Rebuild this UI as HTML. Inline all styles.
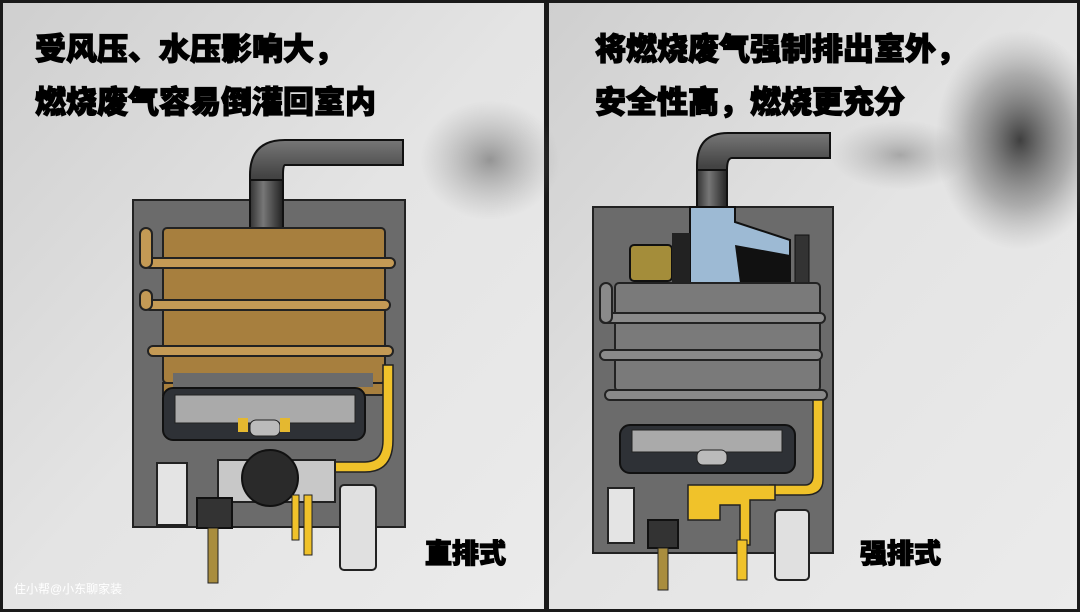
<!DOCTYPE html>
<html><head><meta charset="utf-8"><style>
html,body{margin:0;padding:0;width:1080px;height:612px;overflow:hidden;background:#222}
svg{display:block}
text{font-family:"Liberation Sans","Noto Sans CJK SC",sans-serif;font-weight:900}
.t{stroke:#000;stroke-width:1.2px}
</style></head><body>
<svg width="1080" height="612" viewBox="0 0 1080 612" xmlns="http://www.w3.org/2000/svg">
<defs>
<linearGradient id="bg" x1="0" y1="0" x2="1" y2="1"><stop offset="0" stop-color="#cfcfcf"/><stop offset="0.5" stop-color="#e4e4e4"/><stop offset="1" stop-color="#ebebeb"/></linearGradient>
<radialGradient id="smoke"><stop offset="0" stop-color="#555" stop-opacity="0.7"/><stop offset="1" stop-color="#888" stop-opacity="0"/></radialGradient>
<radialGradient id="smoke2"><stop offset="0" stop-color="#222" stop-opacity="0.85"/><stop offset="0.6" stop-color="#555" stop-opacity="0.4"/><stop offset="1" stop-color="#888" stop-opacity="0"/></radialGradient>
<linearGradient id="pipe" x1="0" y1="0" x2="0" y2="1"><stop offset="0" stop-color="#777"/><stop offset="0.4" stop-color="#444"/><stop offset="1" stop-color="#222"/></linearGradient>
<linearGradient id="pipev" x1="0" y1="0" x2="1" y2="0"><stop offset="0" stop-color="#333"/><stop offset="0.4" stop-color="#777"/><stop offset="1" stop-color="#222"/></linearGradient>
</defs>
<rect x="0" y="0" width="1080" height="612" fill="#1a1a1a"/>
<rect x="3" y="3" width="541" height="606" fill="url(#bg)"/>
<rect x="549" y="3" width="528" height="606" fill="url(#bg)"/>
<ellipse cx="490" cy="160" rx="70" ry="60" fill="url(#smoke)" opacity="0.8"/>
<ellipse cx="1020" cy="140" rx="85" ry="110" fill="url(#smoke2)"/>
<ellipse cx="900" cy="155" rx="70" ry="35" fill="url(#smoke)" opacity="0.6"/>

<text class="t" x="35" y="60" font-size="31" fill="#000">受风压、水压影响大，</text>
<text class="t" x="35" y="113" font-size="31" fill="#000">燃烧废气容易倒灌回室内</text>
<text class="t" x="595" y="60" font-size="31" fill="#000">将燃烧废气强制排出室外，</text>
<text class="t" x="595" y="113" font-size="31" fill="#000">安全性高，燃烧更充分</text>

<!-- LEFT heater -->
<rect x="133" y="200" width="272" height="327" fill="#6b6b6b" stroke="#222" stroke-width="2"/>
<path d="M250 230 V175 Q250 140 285 140 H403 V165 H285 Q283 165 283 175 V230 Z" fill="url(#pipe)" stroke="#111" stroke-width="2"/>
<rect x="250" y="180" width="33" height="50" fill="url(#pipev)" stroke="#111" stroke-width="2"/>
<rect x="163" y="228" width="222" height="155" rx="4" fill="#a77f3e" stroke="#222" stroke-width="2"/>
<path d="M163 383 H385 V395 H163Z" fill="#a77f3e" stroke="#222" stroke-width="2"/>
<rect x="173" y="373" width="200" height="14" fill="#6b6b6b"/>
<g fill="#c49a55" stroke="#222" stroke-width="2">
<rect x="145" y="258" width="250" height="10" rx="5"/>
<rect x="145" y="300" width="245" height="10" rx="5"/>
<rect x="148" y="346" width="245" height="10" rx="5"/>
<rect x="140" y="228" width="12" height="40" rx="6"/>
<rect x="140" y="290" width="12" height="20" rx="6"/>
</g>
<rect x="163" y="388" width="202" height="52" rx="10" fill="#2e3136" stroke="#111" stroke-width="2"/>
<rect x="175" y="395" width="180" height="28" fill="#aaa" stroke="#222"/>
<rect x="250" y="420" width="30" height="16" rx="6" fill="#bbb" stroke="#222"/>
<rect x="238" y="418" width="10" height="14" fill="#e4b830"/><rect x="280" y="418" width="10" height="14" fill="#e4b830"/>
<path d="M383 365 H393 V440 Q393 472 365 472 H330 V462 H365 Q383 462 383 440Z" fill="#f0c22a" stroke="#222" stroke-width="1.5"/>
<rect x="218" y="460" width="117" height="42" fill="#c8c8c8" stroke="#222" stroke-width="2"/>
<circle cx="270" cy="478" r="28" fill="#2a2a2a" stroke="#111" stroke-width="2"/>
<rect x="292" y="495" width="7" height="45" fill="#f0c22a" stroke="#222"/>
<rect x="304" y="495" width="8" height="60" fill="#f0c22a" stroke="#222"/>
<rect x="157" y="463" width="30" height="62" fill="#e4e4e4" stroke="#222" stroke-width="2"/>
<rect x="197" y="498" width="35" height="30" fill="#333" stroke="#111" stroke-width="2"/>
<rect x="208" y="528" width="10" height="55" fill="#a98d3e" stroke="#222"/>
<rect x="340" y="485" width="36" height="85" rx="4" fill="#e0e0e0" stroke="#222" stroke-width="2"/>
<text class="t" x="425" y="563" font-size="27" fill="#000">直排式</text>

<!-- RIGHT heater -->
<rect x="593" y="207" width="240" height="346" fill="#6b6b6b" stroke="#222" stroke-width="2"/>
<path d="M697 215 V165 Q697 133 728 133 H830 V158 H732 Q727 158 727 170 V215 Z" fill="url(#pipe)" stroke="#111" stroke-width="2"/>
<rect x="697" y="170" width="30" height="45" fill="url(#pipev)" stroke="#111" stroke-width="2"/>
<path d="M690 207 H735 V222 L790 240 V283 H690Z" fill="#9dbad4" stroke="#111" stroke-width="2"/>
<path d="M735 245 L790 255 V283 H740Z" fill="#111"/>
<rect x="630" y="245" width="42" height="36" rx="4" fill="#a48d3a" stroke="#111" stroke-width="2"/>
<rect x="672" y="233" width="18" height="50" fill="#222"/>
<rect x="795" y="235" width="14" height="48" fill="#333" stroke="#111"/>
<rect x="615" y="283" width="205" height="108" rx="4" fill="#7a7a7a" stroke="#222" stroke-width="2"/>
<g fill="#8a8a8a" stroke="#222" stroke-width="2">
<rect x="600" y="313" width="225" height="10" rx="5"/>
<rect x="600" y="350" width="222" height="10" rx="5"/>
<rect x="605" y="390" width="222" height="10" rx="5"/>
<rect x="600" y="283" width="12" height="40" rx="6"/>
</g>
<rect x="620" y="425" width="175" height="48" rx="10" fill="#2e3136" stroke="#111" stroke-width="2"/>
<rect x="632" y="430" width="150" height="22" fill="#aaa" stroke="#222"/>
<rect x="697" y="450" width="30" height="15" rx="6" fill="#bbb" stroke="#222"/>
<path d="M813 400 H823 V480 Q823 495 805 495 H770 V485 H805 Q813 485 813 475Z" fill="#f0c22a" stroke="#222" stroke-width="1.5"/>
<path d="M688 485 H775 V500 H750 V545 H740 V505 H720 V520 H688Z" fill="#f0c22a" stroke="#222" stroke-width="1.5"/>
<rect x="737" y="540" width="10" height="40" fill="#f0c22a" stroke="#222"/>
<rect x="608" y="488" width="26" height="55" fill="#e4e4e4" stroke="#222" stroke-width="2"/>
<rect x="648" y="520" width="30" height="28" fill="#333" stroke="#111" stroke-width="2"/>
<rect x="658" y="548" width="10" height="42" fill="#a98d3e" stroke="#222"/>
<rect x="775" y="510" width="34" height="70" rx="4" fill="#e0e0e0" stroke="#222" stroke-width="2"/>
<text class="t" x="860" y="563" font-size="27" fill="#000">强排式</text>
<text x="14" y="593" font-size="12" fill="#fff" style="font-weight:400">住小帮@小东聊家装</text>
</svg>
</body></html>
